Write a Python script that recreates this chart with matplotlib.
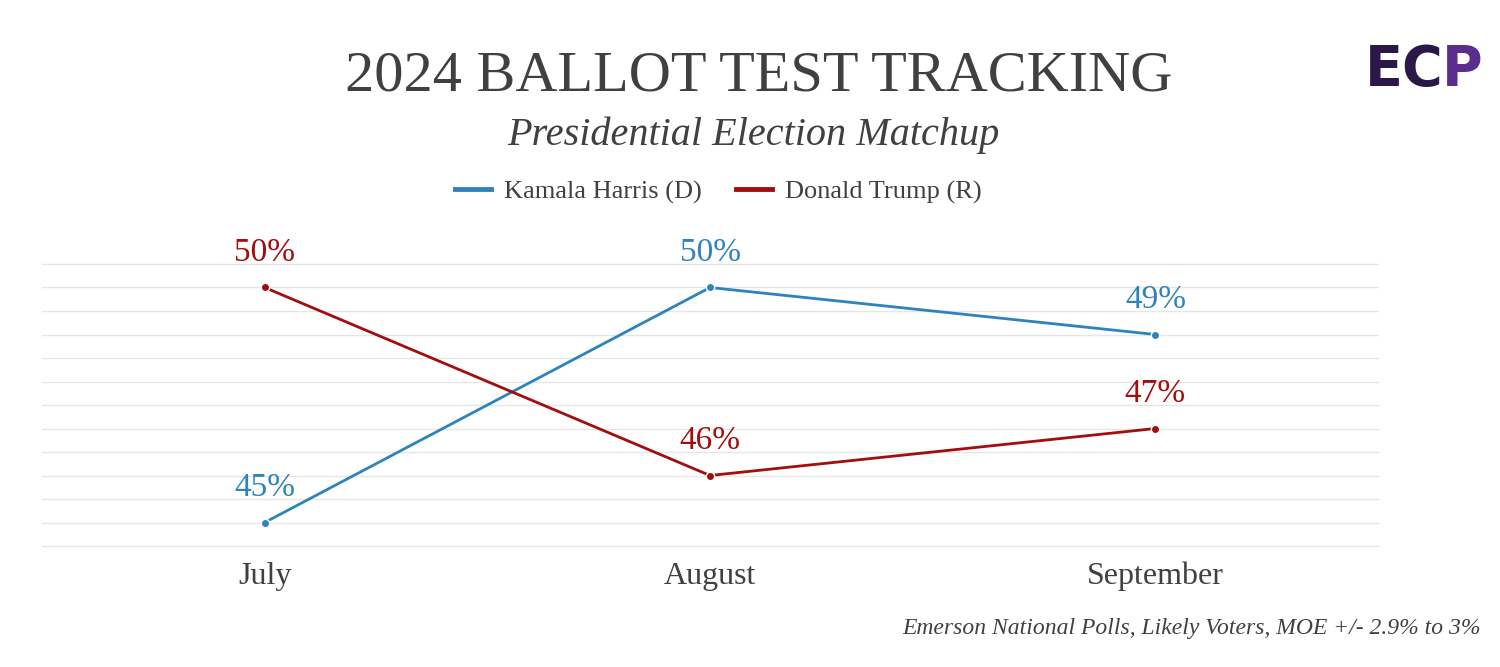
import matplotlib
matplotlib.use("Agg")
import matplotlib.pyplot as plt

months = ["July", "August", "September"]
harris = [45, 50, 49]
trump = [50, 46, 47]
series_names = ["Kamala Harris (D)", "Donald Trump (R)"]

BLUE = "#2e83bd"
RED = "#a20d0d"
TEXT = "#404040"
SERIF = ["Liberation Serif", "DejaVu Serif"]

plt.rcParams["font.family"] = SERIF

fig = plt.figure(figsize=(15, 6.67), dpi=100)
ax = fig.add_axes([0.028, 0.1814, 0.8907, 0.4228])

x = list(range(len(months)))
for vals, col, name in [(harris, BLUE, series_names[0]), (trump, RED, series_names[1])]:
    ax.plot(x, vals, color=col, lw=2.0, marker="o", ms=6, mfc=col, mec="white", mew=1.0,
            label=name, zorder=3)
    for xi, v in zip(x, vals):
        ax.annotate(f"{v}%", (xi, v), xytext=(0, 25), textcoords="offset points",
                    ha="center", va="center", fontsize=24, color=col)

ax.set_xlim(-0.5, 2.5)
ax.set_ylim(44.5, 50.5)
ax.set_yticks([44.5 + 0.5 * i for i in range(13)])
ax.yaxis.grid(True, color="#e6e6e6", lw=1)
for gl in ax.get_ygridlines():
    gl.set_clip_on(False)
ax.set_axisbelow(True)
ax.tick_params(axis="y", left=False, labelleft=False)
ax.tick_params(axis="x", bottom=False, labelsize=23, labelcolor=TEXT, pad=8)
ax.set_xticks(x)
ax.set_xticklabels(months)
for s in ax.spines.values():
    s.set_visible(False)

fig.text(0.506, 0.885, "2024 BALLOT TEST TRACKING", ha="center", va="center",
         fontsize=42, color=TEXT)
fig.text(0.502, 0.797, "Presidential Election Matchup", ha="center", va="center",
         fontsize=29, style="italic", color=TEXT)

leg = fig.legend(loc="center", bbox_to_anchor=(0.479, 0.712), ncol=2, frameon=False,
                 fontsize=19, handlelength=1.35, handletextpad=0.5, columnspacing=1.3,
                 labelcolor=TEXT)
for h in leg.legend_handles:
    h.set_marker("")
    h.set_linewidth(3.5)

fig.text(0.987, 0.058, "Emerson National Polls, Likely Voters, MOE +/- 2.9% to 3%",
         ha="right", va="center", fontsize=17, style="italic", color=TEXT)

# logo
t_ec = fig.text(0.910, 0.895, "EC", ha="left", va="center", fontsize=40, fontweight="bold",
                color="#2b1848", family=["DejaVu Sans"])
fig.canvas.draw()
bb = t_ec.get_window_extent()
x_end = bb.x1 / fig.bbox.width
fig.text(x_end - 0.001, 0.895, "P", ha="left", va="center", fontsize=40, fontweight="bold",
         color="#5b2d8e", family=["DejaVu Sans"])

fig.savefig("out.png", dpi=100, facecolor="white")
